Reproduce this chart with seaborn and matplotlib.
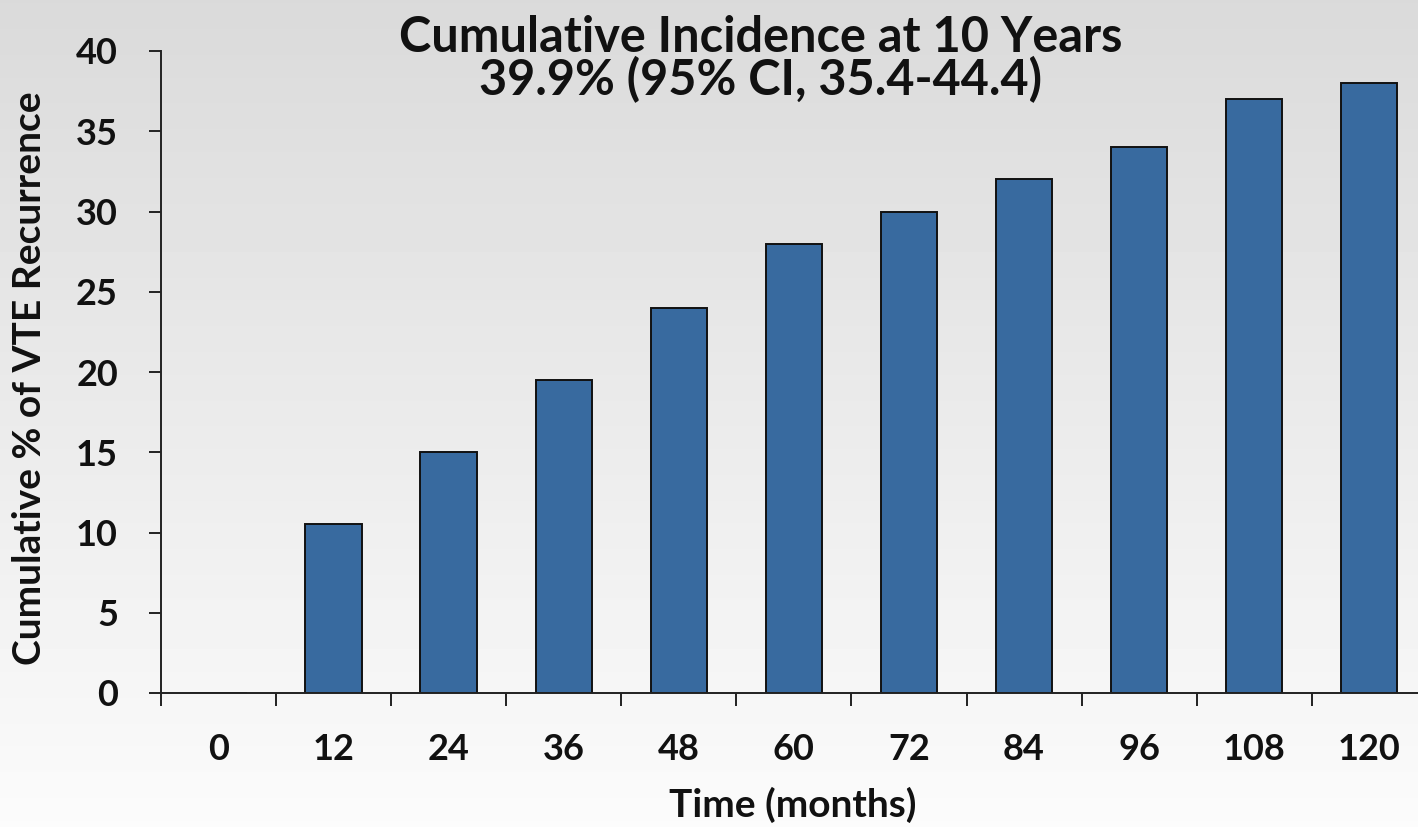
import numpy as np
import pandas as pd
import matplotlib
matplotlib.use("Agg")
import matplotlib.pyplot as plt
import seaborn as sns

# Cumulative VTE recurrence by follow-up month
months = ["0", "12", "24", "36", "48", "60", "72", "84", "96", "108", "120"]
recurrence = [0, 10.5, 15, 19.5, 24, 28, 30, 32, 34, 37, 38]

title_line1 = "Cumulative Incidence at 10 Years"
title_line2 = "39.9% (95% CI, 35.4-44.4)"
y_label = "Cumulative % of VTE Recurrence"
x_label = "Time (months)"
y_ticks = [0, 5, 10, 15, 20, 25, 30, 35, 40]

df = pd.DataFrame({"month": months, "pct": recurrence})

sns.set_theme(style="white")
plt.rcParams["font.family"] = ["Lato", "DejaVu Sans"]
plt.rcParams["font.weight"] = "bold"

W, H = 1418, 827
fig = plt.figure(figsize=(W / 100, H / 100), dpi=100)

# soft vertical gray-to-white background
bg = fig.add_axes([0, 0, 1, 1], zorder=-10)
grad = np.linspace(0.855, 0.985, 256).reshape(-1, 1)
bg.imshow(grad, aspect="auto", cmap="gray", vmin=0, vmax=1,
          extent=[0, 1, 0, 1], origin="upper")
bg.set_axis_off()

left = 161 / W
right = 1426.8 / W
bottom = 1 - 693 / H
top = 1 - 51 / H
ax = fig.add_axes([left, bottom, right - left, top - bottom])
ax.patch.set_alpha(0)

sns.barplot(data=df, x="month", y="pct", order=months, color="#386a9f",
            saturation=1, width=0.49, edgecolor="#111111", linewidth=1.4,
            ax=ax)

tick_font = dict(fontsize=26, fontweight="bold", color="#111111")
ax.set_xlim(-0.5, len(months) - 0.5)
ax.set_ylim(0, 40)
ax.set_yticks(y_ticks)
ax.set_yticklabels([str(t) for t in y_ticks], **tick_font)
ax.set_xticks(range(len(months)))
ax.set_xticklabels(months, **tick_font)
ax.set_xticks(np.arange(-0.5, len(months), 1.0), minor=True)
ax.tick_params(axis="x", which="major", length=0, pad=29, bottom=True)
ax.tick_params(axis="x", which="minor", length=9, width=1.4, bottom=True,
               color="#222222", direction="out")
ax.tick_params(axis="y", length=9, width=1.4, color="#222222",
               direction="out", pad=22, left=True)

for side in ["top", "right"]:
    ax.spines[side].set_visible(False)
for side in ["left", "bottom"]:
    ax.spines[side].set_color("#222222")
    ax.spines[side].set_linewidth(1.4)

ax.set_xlabel("")
ax.set_ylabel("")

fig.text(761 / W, 1 - 37 / H, title_line1, ha="center", va="center",
         fontsize=35, fontweight="bold", color="#111111")
fig.text(760 / W, 1 - 80 / H, title_line2, ha="center", va="center",
         fontsize=35, fontweight="bold", color="#111111")
fig.text(30 / W, 1 - 378 / H, y_label, ha="center", va="center",
         rotation=90, fontsize=28, fontweight="bold", color="#111111")
fig.text(793 / W, 1 - 805 / H, x_label, ha="center", va="center",
         fontsize=28, fontweight="bold", color="#111111")

fig.savefig("out.png", dpi=100)
